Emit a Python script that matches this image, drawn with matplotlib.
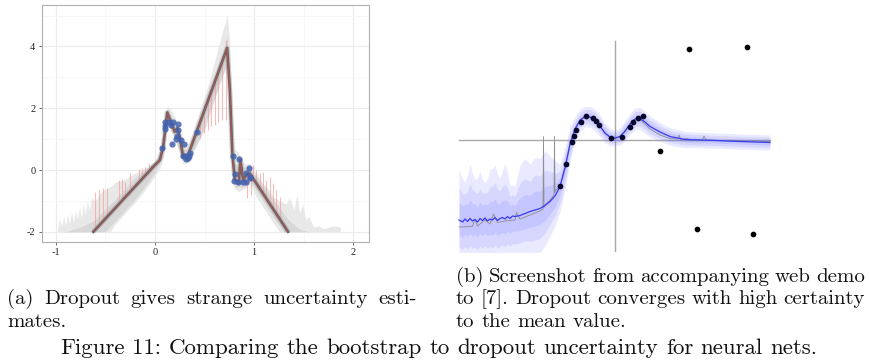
import numpy as np
import matplotlib
matplotlib.use("Agg")
import matplotlib.pyplot as plt

plt.rcParams['axes.unicode_minus'] = False

# ---------------- Panel (a) data ----------------
mean_x = [-0.62, 0.0, 0.05, 0.084, 0.124, 0.168, 0.2, 0.225, 0.25, 0.285, 0.335,
          0.728, 0.755, 0.78, 0.805, 0.846, 0.862, 0.889, 0.923, 0.956, 1.342]
mean_y = [-2.0, 0.16, 0.32, 0.76, 1.86, 1.51, 1.24, 1.35, 1.08, 0.43, 0.49,
          3.95, 2.6, 0.54, -0.32, -0.43, 0.32, -0.32, -0.16, -0.11, -2.0]

pts_x = [0.074, 0.104, 0.107, 0.107, 0.141, 0.161, 0.174, 0.185, 0.208, 0.218, 0.228,
         0.235, 0.268, 0.285, 0.295, 0.305, 0.312, 0.329, 0.342, 0.352, 0.426, 0.789,
         0.795, 0.812, 0.839, 0.849, 0.889, 0.913, 0.923, 0.950, 0.956, 0.963]
pts_y = [0.72, 1.43, 1.57, 1.32, 1.54, 1.46, 0.83, 1.57, 0.99, 1.10, 1.48,
         1.30, 0.97, 0.45, 0.84, 0.45, 0.35, 0.38, 0.45, 0.54, 1.24, 0.45,
         -0.36, -0.13, -0.40, 0.36, -0.38, -0.38, -0.11, 0.05, -0.27, -0.22]

red_x = [-0.60, -0.56, -0.52, -0.485, -0.366, -0.332, -0.299, -0.248, -0.164, -0.131,
         -0.097, -0.057, -0.030, 0.453, 0.493, 0.537, 0.570, 0.604, 0.638, 0.681,
         0.721, 0.721, 0.93, 0.97, 0.99, 1.023, 1.064, 1.09, 1.124, 1.158, 1.185,
         1.225, 1.258]
red_end = [-0.70, -0.65, -0.59, -0.63, -0.32, -0.30, -0.38, -0.11, 0.02, 0.05,
           0.11, 0.22, 0.16, 1.03, 1.19, 1.30, 1.41, 1.46, 1.57, 1.62,
           1.62, 4.2, -0.9, -0.8, 0.16, 0.0, -0.11, -0.05, -0.32, -0.22, -0.43,
           -0.65, -0.86]

outer_hi_x = [-0.98, -0.96, -0.94, -0.92, -0.90, -0.88, -0.86, -0.84, -0.82, -0.80,
              -0.78, -0.76, -0.74, -0.72, -0.70, -0.68, -0.66, -0.64, -0.60, -0.55,
              -0.50, -0.45, -0.40, -0.30, -0.20, -0.10, 0.00, 0.05, 0.09, 0.124,
              0.17, 0.22, 0.28, 0.34, 0.45, 0.55, 0.65, 0.70, 0.728, 0.75,
              0.78, 0.80, 0.85, 0.90, 0.96, 1.02, 1.08, 1.14, 1.20, 1.26,
              1.32, 1.36, 1.40, 1.43, 1.46, 1.49, 1.52, 1.55, 1.60, 1.65,
              1.70, 1.75, 1.80, 1.87]
outer_hi_y = [-1.95, -1.55, -1.85, -1.5, -1.8, -1.45, -1.75, -1.35, -1.7, -1.3,
              -1.6, -1.2, -1.55, -1.1, -1.45, -1.0, -1.3, -0.9, -1.0, -0.75,
              -0.6, -0.55, -0.4, -0.3, -0.1, 0.05, 0.25, 0.45, 1.0, 2.1,
              1.9, 1.6, 0.9, 0.85, 1.9, 2.9, 4.1, 4.7, 5.0, 4.3,
              2.0, 0.7, 0.5, 0.2, 0.2, -0.1, -0.4, -0.6, -0.9, -1.0,
              -1.1, -0.9, -1.3, -0.8, -1.4, -1.1, -1.6, -1.5, -1.85, -1.8,
              -1.9, -1.85, -1.8, -1.85]
outer_lo_x = [-0.98, -0.45, -0.40, -0.30, -0.20, -0.10, 0.00, 0.05, 0.09, 0.124,
              0.17, 0.22, 0.28, 0.34, 0.45, 0.55, 0.65, 0.70, 0.728, 0.75,
              0.78, 0.80, 0.85, 0.90, 0.96, 1.02, 1.08, 1.14, 1.20, 1.26, 1.87]
outer_lo_y = [-2.0, -2.0, -1.75, -1.4, -1.05, -0.65, -0.2, 0.05, 0.45, 1.5,
              1.2, 0.9, 0.2, 0.25, 1.0, 1.9, 2.8, 3.2, 3.4, 1.5,
              0.0, -0.6, -0.7, -0.6, -0.45, -0.85, -1.15, -1.45, -1.75, -2.0, -2.0]

mid_hi_x = [-0.90, -0.75, -0.62, -0.40, -0.20, 0.00, 0.08, 0.124, 0.20, 0.28,
            0.34, 0.50, 0.65, 0.728, 0.76, 0.80, 0.90, 0.96, 1.10, 1.25,
            1.34, 1.45, 1.55]
mid_hi_y = [-2.0, -1.85, -1.65, -0.95, -0.25, 0.3, 0.85, 2.0, 1.45, 0.65,
            0.7, 1.85, 3.35, 4.35, 2.4, 0.2, 0.1, 0.05, -0.55, -1.2,
            -1.6, -1.9, -2.0]
mid_lo_x = [-0.90, -0.50, -0.40, -0.20, 0.00, 0.08, 0.124, 0.20, 0.28, 0.34,
            0.50, 0.65, 0.728, 0.76, 0.80, 0.90, 0.96, 1.10, 1.20, 1.30, 1.55]
mid_lo_y = [-2.0, -2.0, -1.65, -0.95, -0.1, 0.5, 1.65, 1.0, 0.3, 0.35,
            1.3, 2.75, 3.45, 1.8, -0.55, -0.55, -0.35, -1.05, -1.55, -2.0, -2.0]

a_xticks = [-1, 0, 1, 2]
a_yticks = [-2, 0, 2, 4]

# ---------------- Panel (b) data ----------------
blue_x = [-3.12, -3.05, -3.0, -2.95, -2.9, -2.85, -2.8, -2.75, -2.7, -2.65, -2.6,
          -2.55, -2.5, -2.45, -2.4, -2.35, -2.3, -2.25, -2.2, -2.15, -2.1, -2.05,
          -2.0, -1.9, -1.8, -1.7, -1.6, -1.5, -1.4, -1.3, -1.2, -1.1,
          -1.0, -0.9, -0.8, -0.7, -0.6, -0.5, -0.4, -0.3, -0.2, -0.1,
          0.0, 0.1, 0.2, 0.3, 0.4, 0.5, 0.6, 0.7,
          0.9, 1.1, 1.4, 2.0, 2.5, 3.1]
blue_y = [-1.60, -1.64, -1.58, -1.63, -1.57, -1.62, -1.59, -1.64, -1.57, -1.61, -1.56,
          -1.62, -1.58, -1.60, -1.55, -1.61, -1.57, -1.55, -1.58, -1.53, -1.57, -1.52,
          -1.53, -1.51, -1.47, -1.43, -1.40, -1.37, -1.31, -1.23, -1.12, -0.93,
          -0.55, -0.08, 0.22, 0.40, 0.47, 0.46, 0.40, 0.28, 0.14, 0.06,
          0.04, 0.07, 0.18, 0.32, 0.42, 0.43, 0.36, 0.27,
          0.16, 0.07, 0.01, -0.01, -0.03, -0.05]

gray_x = [-3.12, -2.85, -2.8, -2.75, -2.6, -2.5, -2.43, -2.35, -2.2, -2.0,
          -1.97, -1.9, -1.7, -1.5, -1.44, -1.43, -1.42, -1.40, -1.3, -1.22,
          -1.21, -1.20, -1.18, -1.1, -1.0, -0.9, -0.8, -0.7, -0.6, -0.5,
          -0.4, -0.3, -0.2, -0.1, 0.0, 0.1, 0.2, 0.3, 0.4, 0.5,
          0.6, 0.7, 0.9, 1.1, 1.25, 1.28, 1.31, 1.45, 1.5, 1.75,
          1.78, 1.82, 2.2, 2.6, 3.1]
gray_y = [-1.74, -1.73, -1.58, -1.72, -1.6, -1.68, -1.48, -1.65, -1.62, -1.6,
          -1.45, -1.58, -1.5, -1.42, -1.38, 0.07, -1.35, -1.3, -1.2, -1.1,
          0.07, -1.05, -1.0, -0.92, -0.58, -0.1, 0.2, 0.38, 0.46, 0.45,
          0.39, 0.27, 0.13, 0.05, 0.03, 0.06, 0.16, 0.3, 0.4, 0.41,
          0.32, 0.22, 0.1, 0.03, 0.02, 0.1, 0.01, 0.03, 0.0, 0.0,
          0.08, 0.0, -0.01, -0.02, -0.03]

band_x = [-3.12, -3.0, -2.9, -2.8, -2.7, -2.6, -2.5, -2.4, -2.3, -2.2,
          -2.1, -2.0, -1.9, -1.8, -1.7, -1.6, -1.5, -1.4, -1.3, -1.2,
          -1.1, -1.0, -0.9, -0.8, -0.6, -0.4, -0.2, 0.0, 0.2, 0.4,
          0.6, 0.8, 1.0, 1.5, 2.0, 2.5, 3.1]
outer_up = [1.0, 0.75, 1.1, 0.8, 0.95, 0.7, 1.0, 1.05, 0.8, 1.1,
            0.65, 0.6, 1.0, 1.1, 0.95, 1.05, 1.0, 1.1, 0.9, 0.7,
            0.45, 0.4, 0.35, 0.25, 0.2, 0.22, 0.2, 0.15, 0.2, 0.22,
            0.22, 0.2, 0.18, 0.16, 0.15, 0.15, 0.15]
outer_dn = [0.8, 0.8, 0.8, 0.8, 0.8, 0.8, 0.8, 0.8, 0.8, 0.8,
            0.8, 0.8, 0.8, 0.8, 0.85, 0.9, 0.9, 0.8, 0.7, 0.6,
            0.5, 0.45, 0.35, 0.25, 0.2, 0.22, 0.2, 0.15, 0.2, 0.22,
            0.22, 0.2, 0.18, 0.16, 0.15, 0.15, 0.15]
mid_up = [0.65, 0.5, 0.7, 0.55, 0.6, 0.5, 0.65, 0.7, 0.55, 0.7,
          0.45, 0.4, 0.65, 0.7, 0.6, 0.7, 0.65, 0.7, 0.6, 0.45,
          0.3, 0.28, 0.24, 0.16, 0.14, 0.15, 0.14, 0.1, 0.14, 0.15,
          0.15, 0.14, 0.12, 0.11, 0.1, 0.1, 0.1]
mid_dn = [0.55, 0.55, 0.55, 0.55, 0.55, 0.55, 0.55, 0.55, 0.55, 0.55,
          0.55, 0.55, 0.55, 0.55, 0.6, 0.6, 0.6, 0.55, 0.45, 0.4,
          0.33, 0.3, 0.24, 0.16, 0.14, 0.15, 0.14, 0.1, 0.14, 0.15,
          0.15, 0.14, 0.12, 0.11, 0.1, 0.1, 0.1]
inner_up = [0.35, 0.3, 0.38, 0.3, 0.33, 0.28, 0.35, 0.38, 0.3, 0.38,
            0.25, 0.22, 0.35, 0.38, 0.33, 0.38, 0.35, 0.38, 0.32, 0.25,
            0.17, 0.15, 0.12, 0.08, 0.07, 0.08, 0.07, 0.05, 0.07, 0.08,
            0.08, 0.07, 0.06, 0.06, 0.05, 0.05, 0.05]
inner_dn = [0.3, 0.3, 0.3, 0.3, 0.3, 0.3, 0.3, 0.3, 0.3, 0.3,
            0.3, 0.3, 0.3, 0.3, 0.32, 0.32, 0.32, 0.3, 0.25, 0.22,
            0.17, 0.15, 0.12, 0.08, 0.07, 0.08, 0.07, 0.05, 0.07, 0.08,
            0.08, 0.07, 0.06, 0.06, 0.05, 0.05, 0.05]

dots_x = [-1.10, -0.98, -0.854, -0.814, -0.774, -0.686, -0.586, -0.434, -0.386,
          -0.314, -0.086, 0.134, 0.30, 0.366, 0.454, 0.554]
dots_y = [-0.92, -0.48, -0.046, 0.086, 0.20, 0.366, 0.474, 0.434, 0.386,
          0.30, 0.034, 0.066, 0.266, 0.366, 0.434, 0.486]
out_x = [1.48, 2.64, 0.90, 1.64, 2.76]
out_y = [1.82, 1.86, -0.22, -1.78, -1.88]

cap_a = ["(a) Dropout gives strange uncertainty esti-", "mates."]
cap_b = ["(b) Screenshot from accompanying web demo",
         "to [7]. Dropout converges with high certainty",
         "to the mean value."]
cap_fig = "Figure 11: Comparing the bootstrap to dropout uncertainty for neural nets."

# ---------------- Figure ----------------
W, H = 870, 363
fig = plt.figure(figsize=(W / 100, H / 100), dpi=100)

def fbox(l, t, r, b):
    return [l / W, 1 - b / H, (r - l) / W, (b - t) / H]

# Panel (a)
ax = fig.add_axes(fbox(41.7, 4.7, 369.3, 241.7))
ax.set_xlim(-1.14, 2.16)
ax.set_ylim(-2.32, 5.35)
xs = np.linspace(-0.98, 1.87, 2000)
ohi = np.interp(xs, outer_hi_x, outer_hi_y)
olo = np.interp(xs, outer_lo_x, outer_lo_y)
ax.fill_between(xs, olo, ohi, where=ohi > olo, color='#e8e8e8', lw=0, zorder=2)
mxs = np.linspace(-0.9, 1.55, 2000)
mhi = np.interp(mxs, mid_hi_x, mid_hi_y)
mlo = np.interp(mxs, mid_lo_x, mid_lo_y)
ax.fill_between(mxs, mlo, mhi, where=mhi > mlo, color='#cdcdcd', alpha=0.6, lw=0, zorder=3)
red_base = np.interp(red_x, mean_x, mean_y)
ax.vlines(red_x, red_base, red_end, colors='#f39a9a', lw=0.8, alpha=0.65, zorder=4)
ax.plot(mean_x, mean_y, color='#a0a0a0', lw=3.6, alpha=0.45, solid_capstyle='butt', zorder=5)
ax.plot(mean_x, mean_y, color='#6a6464', lw=1.9, zorder=6)
ax.plot(mean_x, mean_y, color='#c0504d', lw=0.8, alpha=0.7, zorder=7)
ax.scatter(pts_x, pts_y, s=20, color='#4262ad', alpha=0.85, lw=0, zorder=8)

ax.set_xticks(a_xticks)
ax.set_yticks(a_yticks)
ax.set_xticks([-0.5, 0.5, 1.5], minor=True)
ax.set_yticks([-1, 1, 3, 5], minor=True)
ax.grid(True, which='major', color='#ebebeb', lw=0.8, zorder=0)
ax.grid(True, which='minor', color='#f6f6f6', lw=0.6, zorder=0)
ax.set_axisbelow(True)
ax.tick_params(which='minor', length=0)
ax.tick_params(which='major', length=2.5, width=0.6, color='#555555', pad=2,
               labelsize=7.5, labelcolor='#222222')
for lab in ax.get_xticklabels() + ax.get_yticklabels():
    lab.set_family('Liberation Serif')
for s in ax.spines.values():
    s.set_color('#b0b0b0')
    s.set_linewidth(0.8)

# Panel (b)
bx = fig.add_axes(fbox(455, 38, 775, 252))
bx.set_xlim(-3.2, 3.2)
bx.set_ylim(-2.24, 2.04)
bx.axis('off')
fx = np.linspace(-3.12, 3.1, 3000)
fm = np.interp(fx, blue_x, blue_y)
for up, dn in [(outer_up, outer_dn), (mid_up, mid_dn), (inner_up, inner_dn)]:
    bx.fill_between(fx, fm - np.interp(fx, band_x, dn), fm + np.interp(fx, band_x, up),
                    color='#5a5aff', alpha=0.13, lw=0, zorder=2)
bx.plot([-3.12, 3.1], [0, 0], color='#a8a8a8', lw=1.0, zorder=1)
bx.plot([0, 0], [-2.24, 1.98], color='#a8a8a8', lw=1.0, zorder=1)
bx.plot(gray_x, gray_y, color='#8f8f8f', lw=0.6, zorder=3)
bx.plot(blue_x, blue_y, color='#3a3af0', lw=0.9, zorder=4)
bx.scatter(dots_x, dots_y, s=17, color='#07072e', lw=0, zorder=5)
bx.scatter(out_x, out_y, s=17, color='#000000', lw=0, zorder=5)

# Captions (Computer Modern, widths fitted to the reference lines)
renderer = fig.canvas.get_renderer()

def words_of(text, size):
    ws = text.split(' ')
    ts = [fig.text(0, 0, w, fontsize=size, family='cmr10', va='baseline', ha='left',
                   color='#111111') for w in ws]
    widths = [t.get_window_extent(renderer).width for t in ts]
    return ts, widths

def natural_width(text, size):
    ts, widths = words_of(text, size)
    for t in ts:
        t.remove()
    return sum(widths) + (len(widths) - 1) * size * 100 / 72 * 0.333

def place_line(text, x0, x1, base, size, justify):
    ts, widths = words_of(text, size)
    if justify and len(ts) > 1:
        gap = (x1 - x0 - sum(widths)) / (len(ts) - 1)
    else:
        gap = size * 100 / 72 * 0.333
    x = x0
    for t, w in zip(ts, widths):
        t.set_position((x / W, 1 - base / H))
        x += w + gap

sub = 10 * 170 / natural_width(cap_b[2], 10)
big = 10 * 760 / natural_width(cap_fig, 10)
place_line(cap_a[0], 7, 417, 304.3, sub, True)
place_line(cap_a[1], 7, 417, 326.7, sub, False)
place_line(cap_b[0], 456, 865, 281.7, sub, True)
place_line(cap_b[1], 456, 865, 304.3, sub, True)
place_line(cap_b[2], 456, 865, 326.7, sub, False)
place_line(cap_fig, 60, 820, 354, big, False)

fig.savefig('out.png', dpi=100)
